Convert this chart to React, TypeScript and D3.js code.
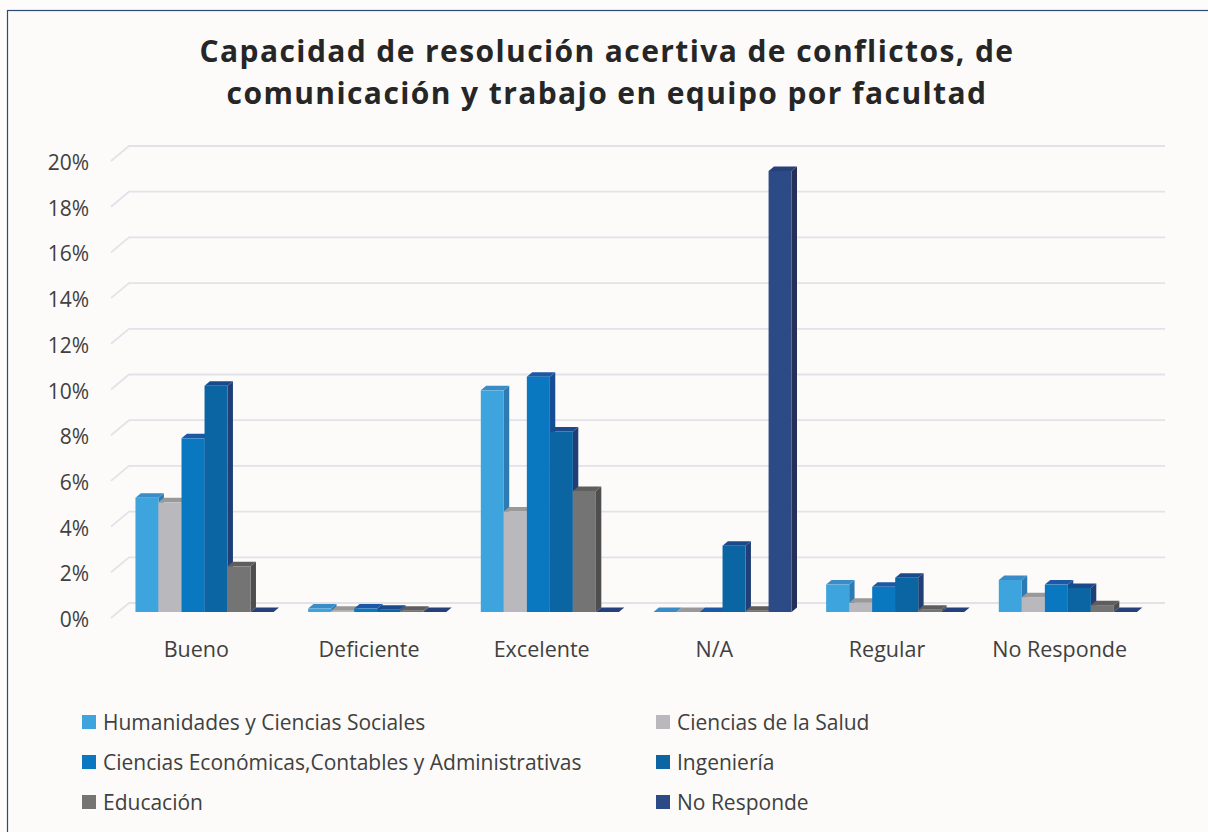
import React from "react";
import * as d3 from "d3";

const categories = ["Bueno", "Deficiente", "Excelente", "N/A", "Regular", "No Responde"];
const seriesNames = [
  "Humanidades y Ciencias Sociales",
  "Ciencias de la Salud",
  "Ciencias Económicas,Contables y Administrativas",
  "Ingeniería",
  "Educación",
  "No Responde",
];
// values in percent, one entry per category
const humanidades = [5.0, 0.15, 9.7, 0, 1.2, 1.4];
const salud = [4.8, 0.05, 4.4, 0, 0.4, 0.65];
const economicas = [7.6, 0.15, 10.3, 0, 1.1, 1.2];
const ingenieria = [9.9, 0.1, 7.9, 2.9, 1.5, 1.05];
const educacion = [2.0, 0.05, 5.3, 0.05, 0.1, 0.3];
const noResponde = [0, 0, 0, 19.3, 0, 0];
const seriesValues = [humanidades, salud, economicas, ingenieria, educacion, noResponde];
const yTicks = [0, 2, 4, 6, 8, 10, 12, 14, 16, 18, 20];

const frontColors = ["#3DA4DD", "#B9B8BC", "#0A78C1", "#0C65A3", "#747474", "#2B4A86"];
const topColors = ["#3A8CC6", "#999999", "#1D58A6", "#1B4A8A", "#5E5E5E", "#25407A"];
const sideColors = ["#2D7BB2", "#8C8C8C", "#154E92", "#213F76", "#4E4E4E", "#262F57"];

const titleLines = [
  "Capacidad de resolución acertiva de conflictos, de",
  "comunicación y trabajo en equipo por facultad",
];

const W = 1208;
const H = 832;
const DX = 18;
const DY = -15;
const BAR_OFF = 0.4;
const BAR_DEPTH = 0.3;
const FONT = "'Open Sans', 'Noto Sans', sans-serif";

export default function App() {
  const x = d3.scaleBand<string>().domain(categories).range([111, 1147]).paddingInner(0).paddingOuter(0);
  const xs = d3
    .scaleBand<string>()
    .domain(seriesNames)
    .range([0, x.bandwidth()])
    .paddingInner(0)
    .paddingOuter(0.75);
  const y = d3.scaleLinear().domain([0, 20]).range([618, 161]);
  const fmt = (v: number) => `${v}%`;

  const ox = BAR_OFF * DX;
  const oy = BAR_OFF * DY;
  const bdx = BAR_DEPTH * DX;
  const bdy = BAR_DEPTH * DY;
  const [x0r, x1r] = x.range();

  const bars: JSX.Element[] = [];
  categories.forEach((c, ci) => {
    seriesNames.forEach((s, si) => {
      const v = seriesValues[si][ci];
      const x0 = (x(c) as number) + (xs(s) as number) + ox;
      const x1 = x0 + xs.bandwidth();
      const yb = y(0) + oy;
      const yt = y(v) + oy;
      const top = [
        [x0, yt],
        [x0 + bdx, yt + bdy],
        [x1 + bdx, yt + bdy],
        [x1, yt],
      ];
      const side = [
        [x1, yt],
        [x1 + bdx, yt + bdy],
        [x1 + bdx, yb + bdy],
        [x1, yb],
      ];
      const line = (pts: number[][]) => d3.line()(pts as [number, number][]) + "Z";
      bars.push(
        <g key={`${ci}-${si}`}>
          <path d={line(side)} fill={sideColors[si]} />
          <path d={line(top)} fill={topColors[si]} />
          <rect x={x0} y={yt} width={x1 - x0} height={Math.max(0, yb - yt)} fill={frontColors[si]} />
        </g>
      );
    });
  });

  const legendItems = seriesNames.map((s, i) => {
    const col = i % 2;
    const row = Math.floor(i / 2);
    const lx = col === 0 ? 82 : 656;
    const ly = 722 + row * 40;
    return (
      <g key={s}>
        <rect x={lx} y={ly - 7} width={14} height={14} fill={frontColors[i]} />
        <text x={lx + 21} y={ly} dominantBaseline="central" fontSize={21} fill="#404040" fontFamily={FONT}>
          {s}
        </text>
      </g>
    );
  });

  return (
    <svg width={W} height={H} style={{ position: "absolute", left: 0, top: 0, display: "block" }}>
      <rect x={0} y={0} width={W} height={H} fill="#fdfcfb" />
      <rect x={7.5} y={10.5} width={W + 50} height={H + 50} fill="#fcfbf9" stroke="#2E4A7A" strokeWidth={1.2} />
      {titleLines.map((t, i) => (
        <text
          key={i}
          x={607}
          y={62 + i * 42}
          textAnchor="middle"
          fontSize={30}
          fontWeight={700}
          letterSpacing={1.4}
          fill="#262626"
          fontFamily={FONT}
        >
          {t}
        </text>
      ))}
      <g>
        {yTicks.map((t) => (
          <g key={t}>
            <path
              d={`M${x0r},${y(t)}L${x0r + DX},${y(t) + DY}L${x1r + DX},${y(t) + DY}`}
              fill="none"
              stroke="#E3E2E9"
              strokeWidth={1.8}
            />
            <text
              x={89}
              y={y(t) + 1}
              textAnchor="end"
              dominantBaseline="central"
              fontSize={21}
              fill="#404040"
              fontFamily={FONT}
            >
              {fmt(t)}
            </text>
          </g>
        ))}
      </g>
      <g>{bars}</g>
      <g>
        {categories.map((c) => (
          <text
            key={c}
            x={(x(c) as number) + x.bandwidth() / 2 - 1}
            y={657}
            textAnchor="middle"
            fontSize={21.5}
            fill="#404040"
            fontFamily={FONT}
          >
            {c}
          </text>
        ))}
      </g>
      <g>{legendItems}</g>
    </svg>
  );
}
